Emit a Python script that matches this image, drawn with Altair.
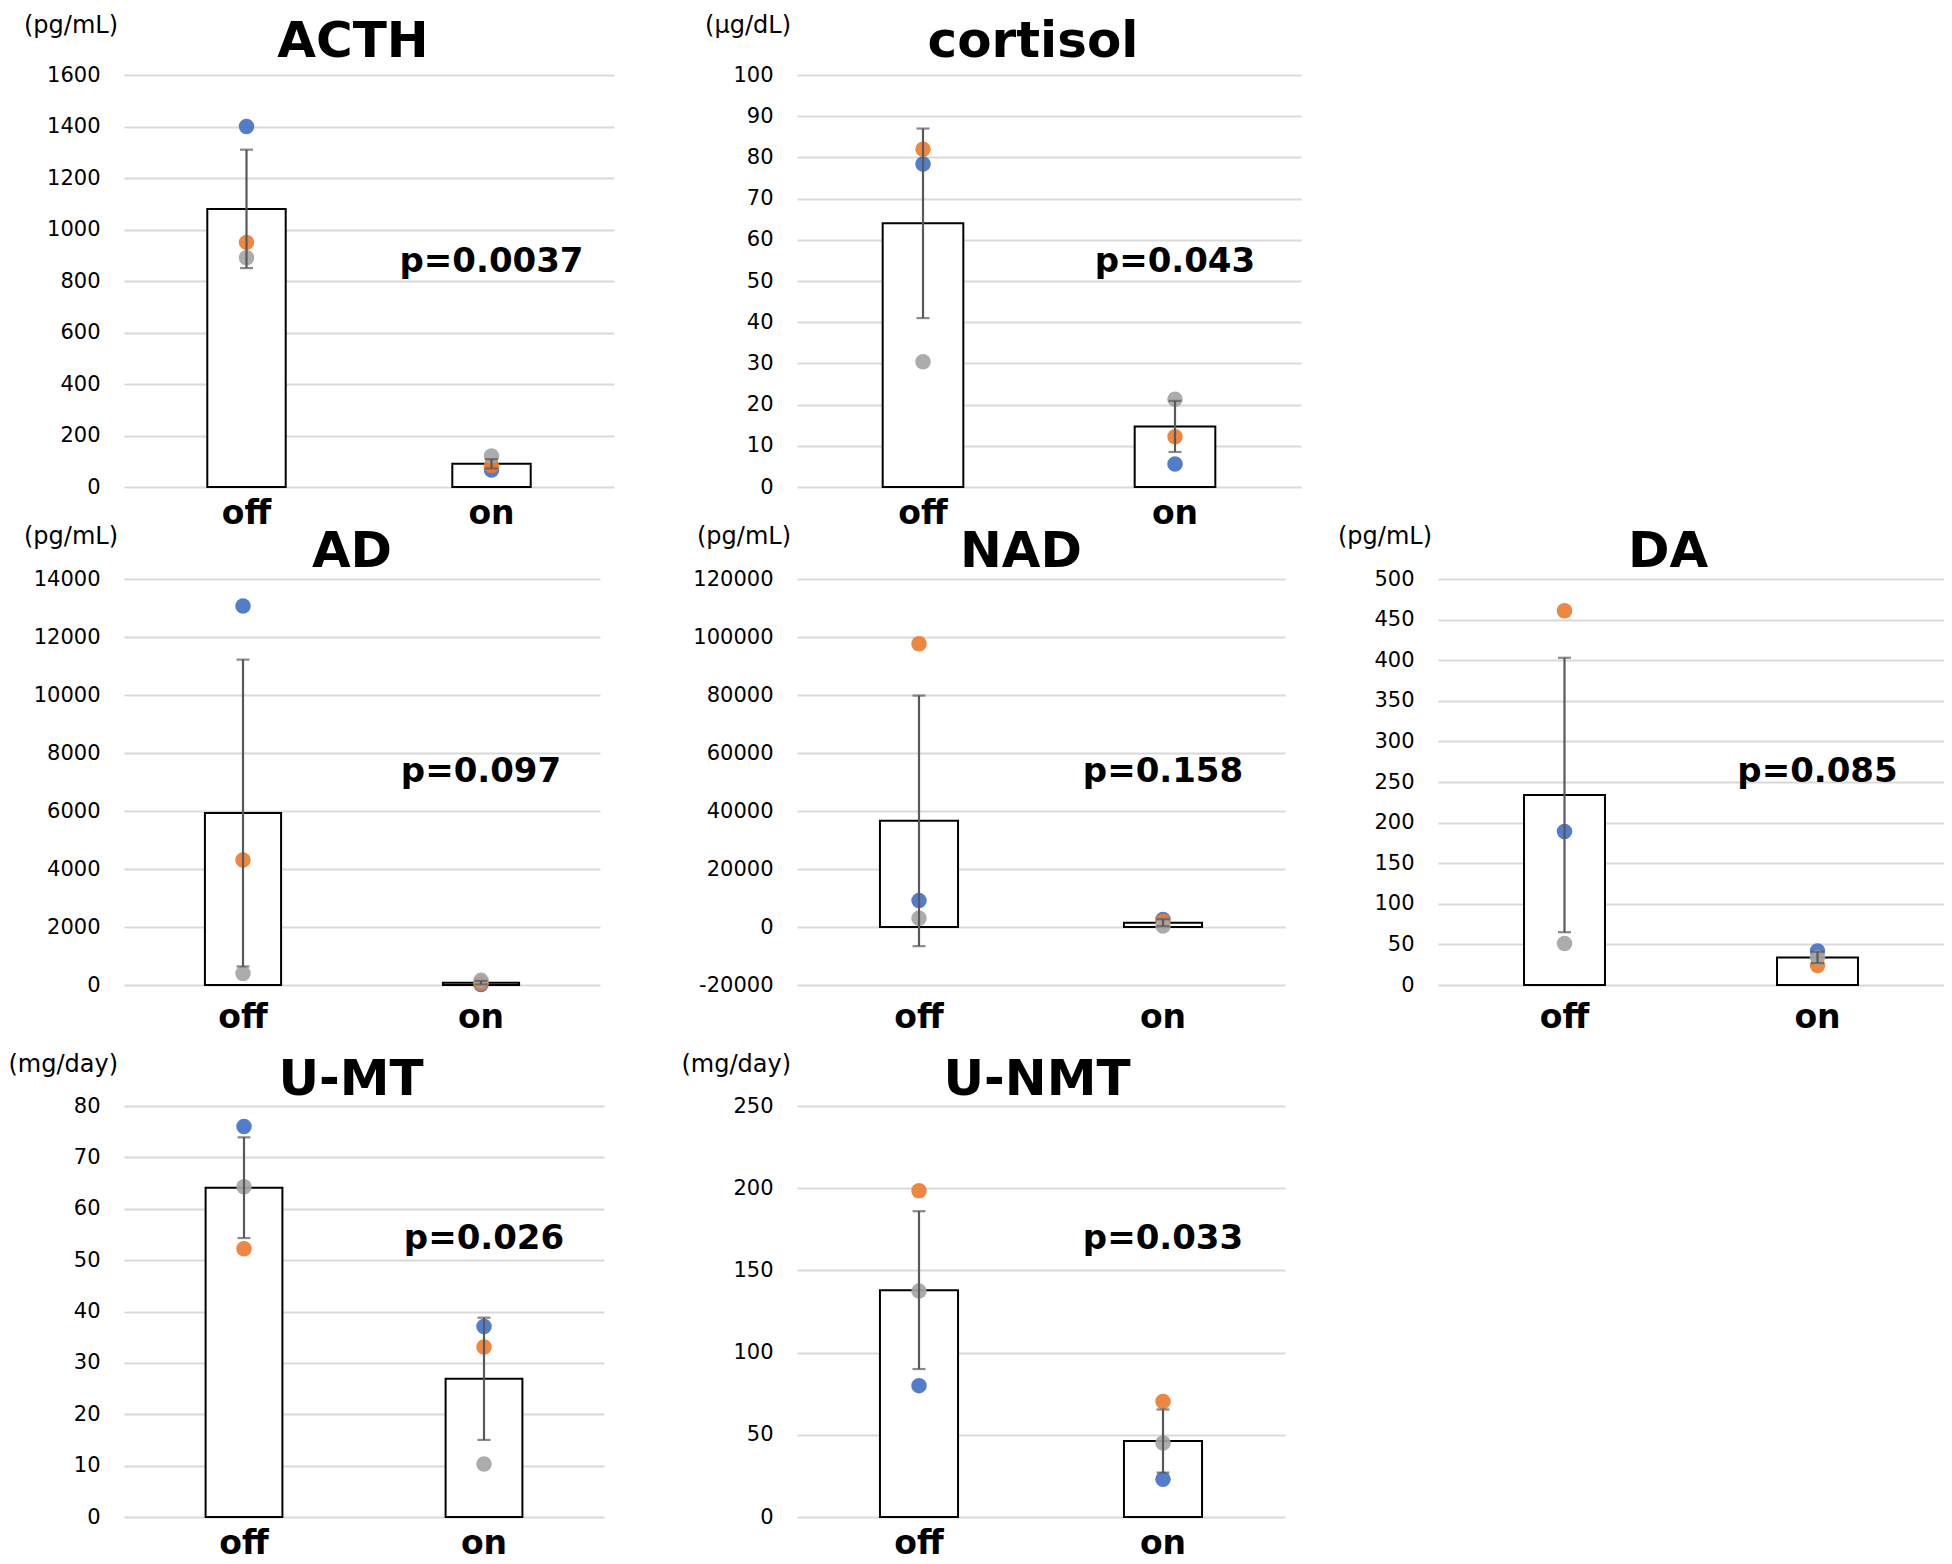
import altair as alt
import pandas as pd

FONT = "DejaVu Sans"

# ---------------- data ----------------
panels = ["ACTH", "cortisol", "AD", "NAD", "DA", "U-MT", "U-NMT"]
units = ["(pg/mL)", "(µg/dL)", "(pg/mL)", "(pg/mL)", "(pg/mL)", "(mg/day)", "(mg/day)"]
p_labels = ["p=0.0037", "p=0.043", "p=0.097", "p=0.158", "p=0.085", "p=0.026", "p=0.033"]
groups = ["off", "on"]

mean_off = [1080, 64.0, 5930, 36600, 234, 64.1, 138.0]
mean_on = [90, 14.7, 80, 1500, 34, 26.9, 46.2]
sd_off = [230, 23.0, 5290, 43200, 169, 9.8, 48.0]
sd_on = [18, 6.2, 60, 1200, 7, 11.9, 19.2]

blue_off = [1400, 78.4, 13070, 9100, 189, 76.0, 79.9]
orange_off = [950, 82.0, 4310, 97700, 461, 52.2, 198.5]
gray_off = [890, 30.4, 400, 3000, 51, 64.3, 137.4]
blue_on = [66, 5.6, 15, 2600, 42, 37.1, 23.0]
orange_on = [83, 12.2, 70, 2000, 24, 33.1, 70.2]
gray_on = [120, 21.3, 160, 350, 34, 10.3, 45.0]

y_ticks = [
    [0, 200, 400, 600, 800, 1000, 1200, 1400, 1600],
    [0, 10, 20, 30, 40, 50, 60, 70, 80, 90, 100],
    [0, 2000, 4000, 6000, 8000, 10000, 12000, 14000],
    [-20000, 0, 20000, 40000, 60000, 80000, 100000, 120000],
    [0, 50, 100, 150, 200, 250, 300, 350, 400, 450, 500],
    [0, 10, 20, 30, 40, 50, 60, 70, 80],
    [0, 50, 100, 150, 200, 250],
]

series_names = ["blue", "orange", "gray"]
series_colors = ["#4472C4", "#ED7D31", "#A5A5A5"]

# ---------------- layout / style ----------------
widths = [490, 504, 476, 488, 506, 480, 488]
row_of = [0, 0, 1, 1, 1, 2, 2]
row_heights = [412, 406, 411]
title_dx = [-16, -16, -10, -20, -23, -13, -4]
title_dy = [-18, -12, -11]
unit_dy = [-49, -42, -41]
p_y = [197, 203, 143]
xlab_pad = [10, 16, 10]

col_w = [490, 183, 504, 137, 506]
row_h = [412, 92, 406, 121, 411]
grid = [
    [0, None, 1, None, None],
    [None] * 5,
    [2, None, 3, None, 4],
    [None] * 5,
    [5, None, 6, None, None],
]


def panel(i):
    w = widths[i]
    r = row_of[i]
    h = row_heights[r]
    xenc = alt.X(
        "grp:N",
        scale=alt.Scale(domain=groups, paddingInner=0, paddingOuter=0),
        axis=alt.Axis(
            title=None, labelFont=FONT, labelFontSize=33, labelFontWeight="bold",
            labelColor="black", labelAngle=0, domain=False, ticks=False, tickSize=0,
            labelPadding=xlab_pad[r], grid=False,
        ),
    )
    yscale = alt.Scale(domain=[y_ticks[i][0], y_ticks[i][-1]], nice=False)
    yaxis = alt.Axis(
        title=None, values=y_ticks[i], labelExpr="'' + datum.value",
        labelFont=FONT, labelFontSize=21, labelColor="black",
        domain=False, ticks=False, tickSize=0, labelPadding=24,
        grid=True, gridColor="#d9d9d9", gridWidth=2,
    )

    bar_df = pd.DataFrame({
        "grp": groups,
        "val": [mean_off[i], mean_on[i]],
        "lo": [mean_off[i] - sd_off[i], mean_on[i] - sd_on[i]],
        "hi": [mean_off[i] + sd_off[i], mean_on[i] + sd_on[i]],
    })
    cap_df = pd.DataFrame({
        "grp": ["off", "off", "on", "on"],
        "val": [mean_off[i] - sd_off[i], mean_off[i] + sd_off[i],
                mean_on[i] - sd_on[i], mean_on[i] + sd_on[i]],
    })
    pts_df = pd.DataFrame({
        "grp": ["off"] * 3 + ["on"] * 3,
        "series": series_names * 2,
        "val": [blue_off[i], orange_off[i], gray_off[i],
                blue_on[i], orange_on[i], gray_on[i]],
    })

    bars = alt.Chart(bar_df).mark_bar(
        fill="white", stroke="black", strokeWidth=2,
        width=alt.RelativeBandSize(0.32),
    ).encode(x=xenc, y=alt.Y("val:Q", scale=yscale, axis=yaxis))

    pts = alt.Chart(pts_df).mark_circle(size=240, opacity=0.92).encode(
        x=xenc,
        y=alt.Y("val:Q", scale=yscale, axis=yaxis),
        color=alt.Color("series:N", scale=alt.Scale(domain=series_names, range=series_colors), legend=None),
    )

    rule = alt.Chart(bar_df).mark_rule(color="#595959", strokeWidth=2.2).encode(
        x=xenc, y=alt.Y("lo:Q", scale=yscale, axis=yaxis), y2="hi:Q"
    )
    caps = alt.Chart(cap_df).mark_tick(color="#595959", size=13, thickness=2.2).encode(
        x=xenc, y=alt.Y("val:Q", scale=yscale, axis=yaxis)
    )

    title = alt.Chart(pd.DataFrame({"t": [panels[i]]})).mark_text(
        font=FONT, fontSize=50, fontWeight="bold", align="center",
        baseline="alphabetic", color="black",
    ).encode(text="t:N", x=alt.value(w / 2 + title_dx[i]), y=alt.value(title_dy[r]))

    unit = alt.Chart(pd.DataFrame({"t": [units[i]]})).mark_text(
        font=FONT, fontSize=24, align="right", baseline="middle", color="black",
    ).encode(text="t:N", x=alt.value(-6), y=alt.value(unit_dy[r]))

    ptxt = alt.Chart(pd.DataFrame({"grp": ["on"], "t": [p_labels[i]]})).mark_text(
        font=FONT, fontSize=34, fontWeight="bold", align="center",
        baseline="alphabetic", color="black",
    ).encode(text="t:N", x=xenc, y=alt.value(p_y[r]))

    layers = [bars, pts, rule, caps, title, unit, ptxt]
    if r == 0:
        # invisible guard so the top texts are fully inside the drawing
        guard = alt.Chart(pd.DataFrame({"s": [0]})).mark_point(opacity=0, size=1).encode(
            x=alt.value(0), y=alt.value(-66)
        )
        layers.append(guard)
    return alt.layer(*layers).properties(width=w, height=h)


def spacer(w, h):
    return alt.Chart(pd.DataFrame({"s": [0]})).mark_point(opacity=0).encode(
        x=alt.value(0), y=alt.value(0)
    ).properties(width=w, height=h)


charts = []
for ri, row in enumerate(grid):
    for ci, idx in enumerate(row):
        if idx is None:
            charts.append(spacer(col_w[ci], row_h[ri]))
        else:
            charts.append(panel(idx))

chart = alt.concat(*charts, columns=5, spacing=0, bounds="flush").properties(
    padding=0
).configure_view(stroke=None)

chart.save("out.html", embed_options={"renderer": "svg", "actions": False})
